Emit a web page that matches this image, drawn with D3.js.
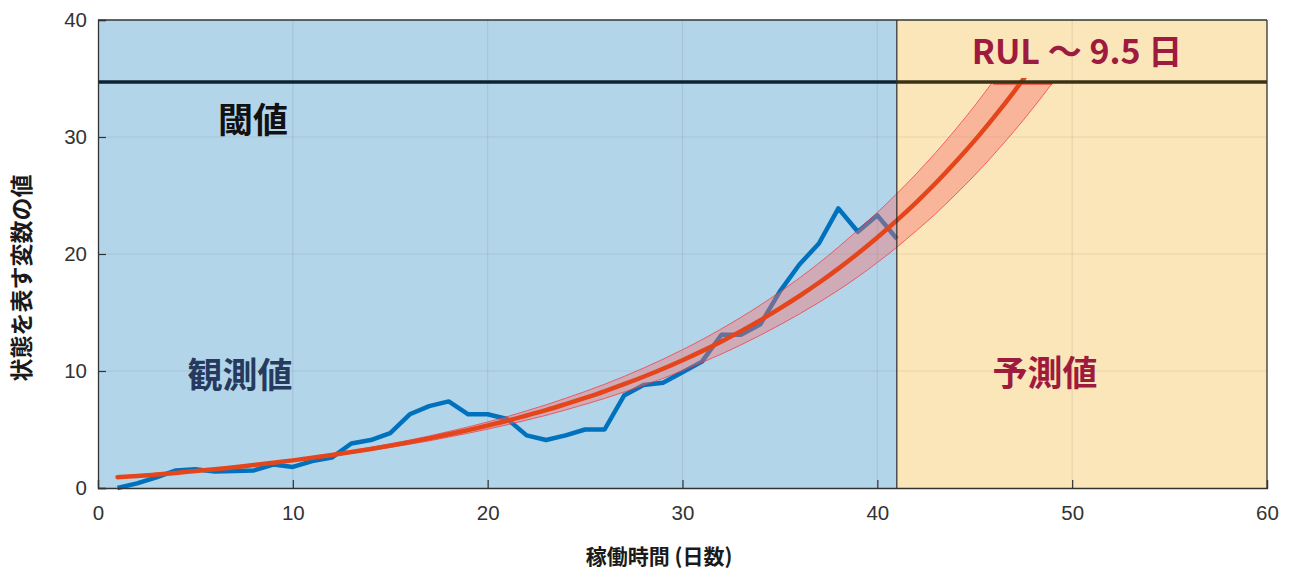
<!DOCTYPE html>
<html><head><meta charset="utf-8">
<script src="https://cdn.jsdelivr.net/npm/d3@7"></script>
<style>
body{margin:0;background:#fff;}
svg{display:block;}
</style></head><body>
<svg id="c" width="1290" height="569"></svg>
<script>
// ---- data ----
const xTicks = [0,10,20,30,40,50,60];
const yTicks = [0,10,20,30,40];
const observedDays = d3.range(1,42);
const observedValues = [0.0,0.4,0.9,1.5,1.6,1.4,1.45,1.5,2.0,1.8,2.3,2.6,3.8,4.1,4.7,6.3,7.0,7.4,6.3,6.3,5.9,4.5,4.1,4.5,5.0,5.0,7.9,8.8,9.0,9.9,10.8,13.1,13.1,14.0,16.8,19.1,20.9,23.9,21.9,23.3,21.3];
const fitDays = d3.range(1,49);
const fitValues = [0.92,1.02,1.15,1.29,1.45,1.60,1.78,1.96,2.16,2.36,2.58,2.82,3.07,3.34,3.62,3.92,4.24,4.59,4.95,5.34,5.75,6.20,6.66,7.17,7.70,8.26,8.87,9.51,10.19,10.92,11.70,12.53,13.41,14.35,15.35,16.41,17.54,18.75,20.04,21.41,22.87,24.42,26.07,27.84,29.71,31.72,33.84,36.10];
const bandDays = d3.range(1,51);
const bandUpper = [0.93,1.03,1.17,1.31,1.48,1.63,1.82,2.01,2.22,2.43,2.66,2.92,3.18,3.47,3.78,4.10,4.45,4.83,5.22,5.65,6.10,6.60,7.11,7.67,8.25,8.87,9.54,10.25,11.01,11.82,12.68,13.61,14.59,15.64,16.76,17.95,19.22,20.59,22.04,23.55,25.16,26.86,28.68,30.62,32.68,34.89,37.22,39.70,42.35,45.2];
const bandLower = [0.91,1.01,1.13,1.27,1.42,1.57,1.74,1.91,2.10,2.29,2.50,2.72,2.96,3.21,3.46,3.74,4.03,4.35,4.68,5.03,5.40,5.80,6.21,6.67,7.15,7.65,8.20,8.77,9.37,10.03,10.72,11.45,12.23,13.06,13.94,14.87,15.86,16.91,18.04,19.27,20.58,21.98,23.46,25.06,26.74,28.55,30.46,32.49,34.65,36.99];
const bandTopDays = [45.95,48.98];
const threshold = 34.7;
const observedEnd = 41;
const xDomain = [0,60], yDomain = [0,40];
const labels = {x:"稼働時間 (日数)", y:"状態を表す変数の値", thr:"閾値", obs:"観測値", pred:"予測値", rul:"RUL ～ 9.5 日"};

// ---- layout ----
const W=1290,H=569, m={l:98,t:20,r:23,b:81};
const svg=d3.select("#c");
const x=d3.scaleLinear().domain(xDomain).range([m.l,W-m.r]);
const y=d3.scaleLinear().domain(yDomain).range([H-m.b,m.t]);

// backgrounds
svg.append("rect").attr("x",x(0)).attr("y",y(40)).attr("width",x(observedEnd)-x(0)).attr("height",y(0)-y(40)).attr("fill","#b3d5ea");
svg.append("rect").attr("x",x(observedEnd)).attr("y",y(40)).attr("width",x(60)-x(observedEnd)).attr("height",y(0)-y(40)).attr("fill","#fbe6b9");

// grid
const g=svg.append("g");
g.selectAll(".gx").data(xTicks.slice(1,-1)).join("line").attr("x1",d=>x(d)).attr("x2",d=>x(d)).attr("y1",y(0)).attr("y2",y(40)).attr("stroke","#000").attr("stroke-opacity",0.08).attr("stroke-width",1.2);
g.selectAll(".gy").data(yTicks.slice(1,-1)).join("line").attr("x1",x(0)).attr("x2",x(60)).attr("y1",d=>y(d)).attr("y2",d=>y(d)).attr("stroke","#000").attr("stroke-opacity",0.08).attr("stroke-width",1.2);

// clip below threshold
const defs=svg.append("defs");
defs.append("clipPath").attr("id","belowThr").append("rect").attr("x",x(0)).attr("width",x(60)-x(0)).attr("y",y(threshold)+1).attr("height",y(0)-y(threshold)-1);
defs.append("clipPath").attr("id","lineClip").append("rect").attr("x",x(0)).attr("width",x(60)-x(0)).attr("y",y(threshold)-4).attr("height",y(0)-y(threshold)+4);

// observed line
svg.append("path").datum(observedDays.map((d,i)=>[d,observedValues[i]]))
  .attr("d",d3.line().x(d=>x(d[0])).y(d=>y(d[1])))
  .attr("fill","none").attr("stroke","#0072bd").attr("stroke-width",4.5).attr("stroke-linejoin","round");

// band
const band=bandDays.map((d,i)=>({d,u:bandUpper[i],l:bandLower[i]}));
const bg=svg.append("g").attr("clip-path","url(#belowThr)");
bg.append("path").datum(band).attr("d",d3.area().x(d=>x(d.d)).y0(d=>y(d.l)).y1(d=>y(d.u)).curve(d3.curveMonotoneX))
  .attr("fill","#f2736e").attr("fill-opacity",0.42);
bg.append("path").datum(band).attr("d",d3.line().x(d=>x(d.d)).y(d=>y(d.u)).curve(d3.curveMonotoneX)).attr("fill","none").attr("stroke","#f5303a").attr("stroke-opacity",0.7).attr("stroke-width",1);
bg.append("path").datum(band).attr("d",d3.line().x(d=>x(d.d)).y(d=>y(d.l)).curve(d3.curveMonotoneX)).attr("fill","none").attr("stroke","#f5303a").attr("stroke-opacity",0.7).attr("stroke-width",1);
svg.append("line").attr("x1",x(bandTopDays[0])).attr("x2",x(bandTopDays[1])).attr("y1",y(threshold)+2).attr("y2",y(threshold)+2).attr("stroke","#f01010").attr("stroke-width",1.2);

// fit line
svg.append("path").datum(fitDays.map((d,i)=>[d,fitValues[i]])).attr("clip-path","url(#lineClip)")
  .attr("d",d3.line().x(d=>x(d[0])).y(d=>y(d[1])).curve(d3.curveMonotoneX))
  .attr("fill","none").attr("stroke","#e5451a").attr("stroke-width",4.5).attr("stroke-linecap","round");

// threshold line
svg.append("line").attr("x1",x(0)).attr("x2",x(observedEnd)).attr("y1",y(threshold)).attr("y2",y(threshold)).attr("stroke","#0c2335").attr("stroke-width",3.6);
svg.append("line").attr("x1",x(observedEnd)).attr("x2",x(60)).attr("y1",y(threshold)).attr("y2",y(threshold)).attr("stroke","#3b3216").attr("stroke-width",3.6);

// divider
svg.append("line").attr("x1",x(observedEnd)).attr("x2",x(observedEnd)).attr("y1",y(0)).attr("y2",y(40)).attr("stroke","#2a2a2a").attr("stroke-width",1.2);

// axes
const ax=svg.append("g").attr("transform",`translate(0,${y(0)})`)
  .call(d3.axisBottom(x).tickValues(xTicks).tickSize(-8).tickPadding(17).tickFormat(d3.format("d")));
const ay=svg.append("g").attr("transform",`translate(${x(0)},0)`)
  .call(d3.axisLeft(y).tickValues(yTicks).tickSize(-8).tickPadding(11).tickFormat(d3.format("d")));
[ax,ay].forEach(a=>{
  a.select(".domain").attr("stroke","#333").attr("stroke-width",1.3);
  a.selectAll(".tick line").attr("stroke","#333").attr("stroke-width",1.2);
  a.selectAll(".tick text").attr("fill","#333").style("font-family","'Liberation Sans',Arial,sans-serif").style("font-size","20.5px");
});
// top & right box
svg.append("line").attr("x1",x(0)).attr("x2",x(60)).attr("y1",y(40)).attr("y2",y(40)).attr("stroke","#333").attr("stroke-width",1.3);
svg.append("line").attr("x1",x(60)).attr("x2",x(60)).attr("y1",y(40)).attr("y2",y(0)).attr("stroke","#333").attr("stroke-width",1.3);

// titles
const jp="'Noto Sans CJK JP','Noto Sans',sans-serif";
svg.append("text").attr("x",659).attr("y",555).attr("dominant-baseline","central").attr("text-anchor","middle").attr("font-family",jp).attr("font-weight","bold").attr("font-size",21).attr("fill","#1a1a1a").text(labels.x);
svg.append("text").attr("transform","translate(30,278) rotate(-90)").attr("text-anchor","middle").attr("font-family",jp).attr("font-weight","bold").attr("font-size",23).attr("fill","#1a1a1a").text(labels.y);

// annotations
function ann(t,cx,cy,col,sz){svg.append("text").attr("x",cx).attr("y",cy).attr("text-anchor","middle").attr("dominant-baseline","central").attr("font-family",jp).attr("font-weight","bold").attr("font-size",sz).attr("fill",col).text(t);}
ann(labels.thr,253,117,"#111111",35);
ann(labels.obs,240,372,"#263a5e",35);
ann(labels.pred,1045,370,"#9e1a3f",35);
ann(labels.rul,1077,49,"#9e1a3f",34);
</script></body></html>
